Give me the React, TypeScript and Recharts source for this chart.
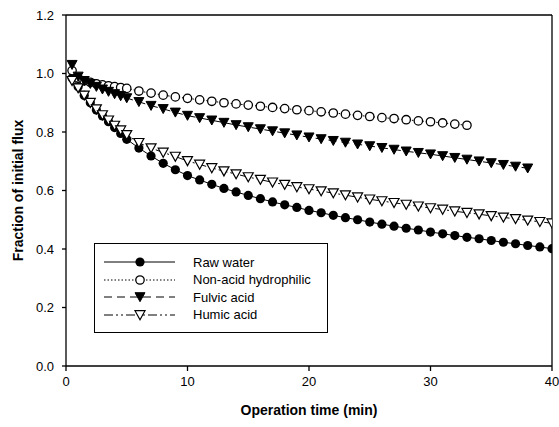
import React from "react";
import { LineChart, Line, XAxis, YAxis, ReferenceLine, Legend } from "recharts";

const FONT = "Arial, 'Liberation Sans', sans-serif";

// operation time (min) of each sample
const times = [
  0.5, 1, 1.5, 2, 2.5, 3, 3.5, 4, 4.5, 5, 6, 7, 8, 9, 10, 11, 12, 13, 14, 15,
  16, 17, 18, 19, 20, 21, 22, 23, 24, 25, 26, 27, 28, 29, 30, 31, 32, 33, 34,
  35, 36, 37, 38, 39, 40,
];

const rawWater = [
  0.985, 0.955, 0.925, 0.9, 0.875, 0.855, 0.835, 0.815, 0.795, 0.775, 0.745,
  0.718, 0.693, 0.671, 0.651, 0.636, 0.621, 0.607, 0.595, 0.583, 0.572, 0.561,
  0.551, 0.542, 0.532, 0.524, 0.515, 0.507, 0.5, 0.492, 0.485, 0.478, 0.471,
  0.465, 0.458, 0.452, 0.446, 0.44, 0.435, 0.429, 0.423, 0.418, 0.412, 0.407,
  0.401,
];

const nonAcidHydrophilic = [
  1.01, 0.985, 0.975, 0.97, 0.965, 0.961, 0.958, 0.955, 0.952, 0.949, 0.94,
  0.933, 0.926, 0.92, 0.915, 0.91, 0.905, 0.9, 0.896, 0.892, 0.888, 0.884,
  0.88, 0.876, 0.873, 0.869, 0.865, 0.861, 0.857, 0.853, 0.849, 0.846, 0.842,
  0.838, 0.835, 0.831, 0.827, 0.823,
];

const fulvicAcid = [
  1.03, 0.99, 0.975, 0.965, 0.955, 0.946, 0.938, 0.93, 0.923, 0.916, 0.903,
  0.89, 0.879, 0.867, 0.856, 0.848, 0.84, 0.832, 0.824, 0.817, 0.81, 0.803,
  0.796, 0.789, 0.782, 0.776, 0.77, 0.764, 0.758, 0.752, 0.746, 0.74, 0.734,
  0.729, 0.724, 0.718, 0.712, 0.706, 0.7, 0.694, 0.688, 0.682, 0.676,
];

const humicAcid = [
  0.975, 0.95, 0.925, 0.9, 0.878, 0.858, 0.84, 0.822, 0.806, 0.79, 0.763,
  0.745, 0.73, 0.716, 0.701, 0.689, 0.677, 0.666, 0.656, 0.646, 0.637, 0.628,
  0.62, 0.612, 0.605, 0.598, 0.591, 0.584, 0.577, 0.57, 0.564, 0.558, 0.552,
  0.546, 0.54, 0.535, 0.529, 0.524, 0.519, 0.513, 0.508, 0.503, 0.498, 0.493,
  0.488,
];

const xTicks = [0, 10, 20, 30, 40];
const yTicks = [0, 0.2, 0.4, 0.6, 0.8, 1.0, 1.2];

const toPoints = (vals: number[]) =>
  vals.map((v, i) => ({ t: times[i], flux: v }));

const tri = (cx: number, cy: number) =>
  `M${cx - 5},${cy - 4.3}L${cx + 5},${cy - 4.3}L${cx},${cy + 4.7}Z`;

type Marker = "filledCircle" | "openCircle" | "filledTri" | "openTri";

function drawMarker(kind: Marker, cx: number, cy: number, key?: any) {
  if (kind === "filledCircle")
    return <circle key={key} cx={cx} cy={cy} r={4.6} fill="#000" />;
  if (kind === "openCircle")
    return (
      <circle key={key} cx={cx} cy={cy} r={4.2} fill="#fff" stroke="#000" strokeWidth={1.3} />
    );
  if (kind === "filledTri")
    return <path key={key} d={tri(cx, cy)} fill="#000" stroke="#000" strokeWidth={1} />;
  return <path key={key} d={tri(cx, cy)} fill="#fff" stroke="#000" strokeWidth={1.2} />;
}

const series = [
  { name: "Raw water", values: rawWater, dash: undefined, marker: "filledCircle" as Marker },
  { name: "Non-acid hydrophilic", values: nonAcidHydrophilic, dash: "1.5 2", marker: "openCircle" as Marker },
  { name: "Fulvic acid", values: fulvicAcid, dash: "8 5", marker: "filledTri" as Marker },
  { name: "Humic acid", values: humicAcid, dash: "9 3 2 3 2 3", marker: "openTri" as Marker },
];

function LegendBox() {
  return (
    <div
      style={{
        width: 234,
        height: 90,
        border: "1px solid #000",
        boxSizing: "border-box",
        background: "#fff",
        position: "relative",
        fontFamily: FONT,
        fontSize: 13,
        color: "#000",
      }}
    >
      {series.map((s, i) => (
        <div
          key={s.name}
          style={{
            position: "absolute",
            left: 0,
            top: 9 + i * 17.5,
            height: 18,
            display: "flex",
            alignItems: "center",
            whiteSpace: "nowrap",
          }}
        >
          <svg width={98} height={18}>
            <line x1={9} x2={80} y1={9} y2={9} stroke="#000" strokeWidth={1} strokeDasharray={s.dash} />
            {drawMarker(s.marker, 45, 9)}
          </svg>
          <span>{s.name}</span>
        </div>
      ))}
    </div>
  );
}

export default function App() {
  return (
    <div style={{ position: "absolute", left: 0, top: 0, background: "#fff" }}>
      <LineChart
        width={559}
        height={427}
        margin={{ top: 15, right: 7, left: 0, bottom: 31 }}
      >
        <XAxis
          type="number"
          dataKey="t"
          domain={[0, 40]}
          ticks={xTicks}
          allowDataOverflow
          height={30}
          stroke="#000"
          strokeWidth={1.3}
          tickSize={5}
          tickMargin={6}
          tick={{ fill: "#000", fontSize: 13, fontFamily: FONT }}
          label={{
            value: "Operation time (min)",
            position: "bottom",
            offset: 9,
            style: { fill: "#000", fontSize: 14, fontWeight: "bold", fontFamily: FONT },
          }}
        />
        <YAxis
          type="number"
          domain={[0, 1.2]}
          ticks={yTicks}
          width={66}
          stroke="#000"
          strokeWidth={1.3}
          tickSize={4}
          tickMargin={8}
          tickFormatter={(v: number) => v.toFixed(1)}
          tick={{ fill: "#000", fontSize: 13, fontFamily: FONT }}
          label={{
            value: "Fraction of initial flux",
            angle: -90,
            position: "insideLeft",
            offset: 18,
            style: {
              fill: "#000",
              fontSize: 14,
              fontWeight: "bold",
              fontFamily: FONT,
              textAnchor: "middle",
            },
          }}
        />
        <ReferenceLine y={1.2} stroke="#000" strokeWidth={1.3} />
        <ReferenceLine x={40} stroke="#000" strokeWidth={1.3} />
        {series.map((s) => (
          <Line
            key={s.name}
            name={s.name}
            data={toPoints(s.values)}
            dataKey="flux"
            type="linear"
            stroke="#000"
            strokeWidth={1}
            strokeDasharray={s.dash}
            isAnimationActive={false}
            activeDot={false}
            dot={(p: any) => drawMarker(s.marker, p.cx, p.cy, p.index)}
          />
        ))}
        <Legend
          layout="vertical"
          align="center"
          verticalAlign="middle"
          wrapperStyle={{ left: 94, top: 243, width: 234 }}
          content={() => <LegendBox />}
        />
      </LineChart>
    </div>
  );
}
